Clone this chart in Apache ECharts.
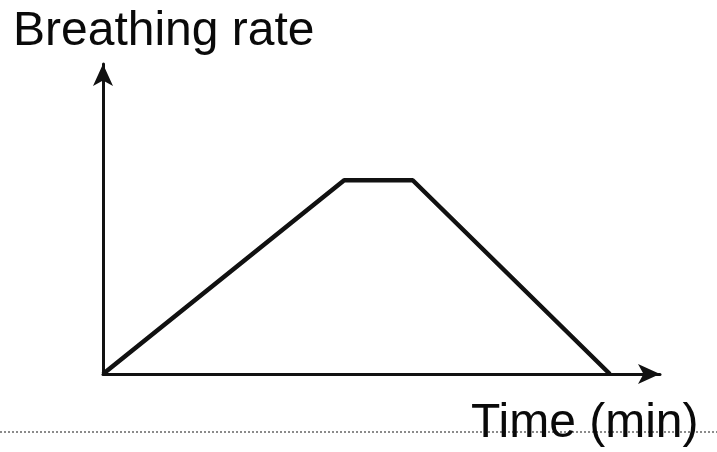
<!DOCTYPE html>
<html>
<head>
<meta charset="utf-8">
<script src="https://cdn.jsdelivr.net/npm/echarts@6/dist/echarts.min.js"></script>
<style>html,body{margin:0;padding:0;background:#fff}#c{width:717px;height:452px}</style>
</head>
<body>
<div id="c"></div>
<script>
var times = [0, 43.3, 55.6, 91];
var rates = [0, 62.5, 62.5, 0];
var yTitle = 'Breathing rate';
var xTitle = 'Time (min)';

var chart = echarts.init(document.getElementById('c'));
chart.setOption({
  backgroundColor: '#fff',
  animation: false,
  title: [
    { text: yTitle, left: 8, top: 3, textStyle: { fontFamily: 'Liberation Sans', fontSize: 48, fontWeight: 'normal', color: '#0a0a0a' } },
    { text: xTitle, left: 466, top: 395, textStyle: { fontFamily: 'Liberation Sans', fontSize: 48, fontWeight: 'normal', color: '#0a0a0a' } }
  ],
  grid: { left: 103, right: 57, top: 64, bottom: 78 },
  xAxis: {
    type: 'value', min: 0, max: 100,
    axisLine: { show: true, symbol: ['none', 'arrow'], symbolSize: [15, 22], lineStyle: { color: '#111', width: 3 } },
    axisTick: { show: false }, axisLabel: { show: false }, splitLine: { show: false }
  },
  yAxis: {
    type: 'value', min: 0, max: 100,
    axisLine: { show: true, symbol: ['none', 'arrow'], symbolSize: [15, 22], lineStyle: { color: '#111', width: 3 } },
    axisTick: { show: false }, axisLabel: { show: false }, splitLine: { show: false }
  },
  graphic: [
    { type: 'line', shape: { x1: 0, y1: 432, x2: 717, y2: 432 }, z: -1,
      style: { stroke: '#666', lineWidth: 1.5, lineDash: [2, 2] } }
  ],
  series: [{
    type: 'line',
    data: times.map(function (t, i) { return [t, rates[i]]; }),
    symbol: 'none',
    lineStyle: { color: '#111', width: 4.5 }
  }]
});
</script>
</body>
</html>
